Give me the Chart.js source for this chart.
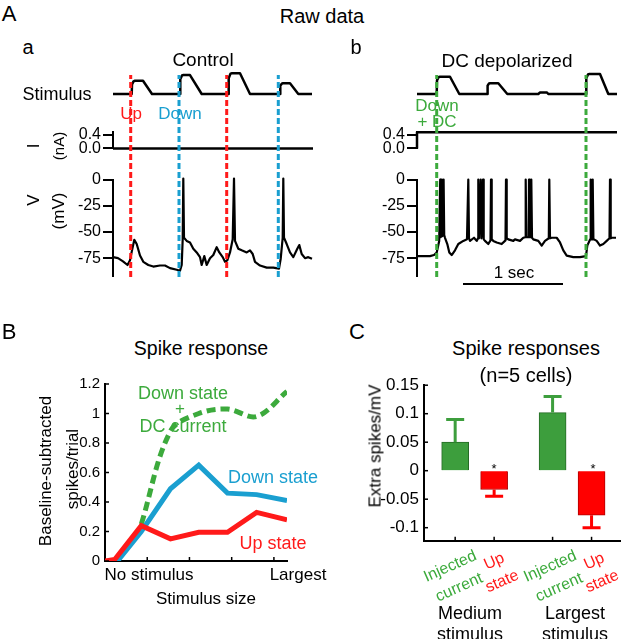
<!DOCTYPE html>
<html>
<head>
<meta charset="utf-8">
<script src="https://cdn.jsdelivr.net/npm/chart.js@4.4.1/dist/chart.umd.min.js"></script>
<style>
  body { margin: 0; background: #fff; }
  #fig { position: relative; width: 621px; height: 639px; overflow: hidden; font-family: "Liberation Sans", Arial, sans-serif; }
  #fig canvas { position: absolute; }
  .t { position: absolute; white-space: nowrap; line-height: 1; transform: translate(-50%, -50%); }
</style>
</head>
<body>
<div id="fig"></div>
<script>
// ---- Panel A: raw traces (time in s, stimulus in a.u., I in nA, V in mV) ----
const stimTraceA = [[0,0],[0.187,0],[0.19,0.45],[0.205,0.6],[0.22,0.63],[0.3,0.63],[0.39,0],
  [0.67,0],[0.673,0.7],[0.69,0.88],[0.7,0.9],[0.77,0.9],[0.887,0],
  [1.153,0],[1.157,0.75],[1.175,0.97],[1.19,0.99],[1.27,0.99],[1.37,0],
  [1.67,0],[1.673,0.4],[1.69,0.5],[1.7,0.51],[1.77,0.51],[1.853,0],[1.99,0]];
const stimTraceB = [[0,0],[0.197,0],[0.2,0.65],[0.215,0.8],[0.23,0.82],[0.33,0.82],[0.423,0],
  [0.703,0],[0.706,0.4],[0.72,0.5],[0.73,0.51],[0.813,0.51],[0.903,0],
  [1.213,0],[1.23,0.07],[1.3,0.07],[1.313,0],
  [1.69,0],[1.693,0.75],[1.71,0.93],[1.72,0.95],[1.83,0.95],[1.913,0],[2.0,0]];
const iTraceA = [[0,0],[2,0]];
const iTraceB = [[0,0],[0,0.48],[2,0.48]];
const vTraceA = [[0,-74],[0.05,-75],[0.1,-78],[0.145,-81.5],[0.17,-77],[0.187,-69],[0.213,-57.5],
  [0.237,-61.5],[0.27,-72.5],[0.303,-78.5],[0.353,-81.5],[0.403,-83],[0.47,-82],[0.52,-82],
  [0.57,-84.5],[0.637,-86],[0.67,-87],[0.687,-81.5],[0.697,-57],[0.703,1],[0.71,-55.5],
  [0.737,-58.5],[0.77,-60],[0.803,-66],[0.837,-69.5],[0.87,-74],[0.887,-81.5],[0.913,-73],
  [0.937,-81.5],[0.97,-75],[1.003,-72],[1.037,-64.5],[1.063,-69.5],[1.097,-74],[1.12,-78.5],
  [1.143,-77],[1.17,-69.5],[1.197,-57],[1.21,1],[1.22,-58.5],[1.253,-66],[1.287,-67.5],
  [1.337,-69.5],[1.37,-67.5],[1.397,-71],[1.42,-78.5],[1.47,-82],[1.537,-84],[1.603,-84],
  [1.66,-85],[1.677,-75.5],[1.697,-55.5],[1.703,1],[1.71,-55.5],[1.737,-61.5],[1.77,-69.5],
  [1.803,-74],[1.843,-66],[1.863,-62.5],[1.887,-71],[1.92,-75],[1.953,-74],[1.99,-75.5]];
const vTraceB = [[0,-73],[0.06,-73],[0.13,-73],[0.17,-72],[0.197,-69.5],[0.222,-58.5],[0.232,0],
  [0.237,-55],[0.248,0],[0.253,-54],[0.266,0],[0.272,-53],[0.28,-55.5],[0.303,-61.5],
  [0.323,-69.5],[0.347,-72],[0.38,-67.5],[0.413,-61.5],[0.463,-58.5],[0.5,-57],[0.513,0],
  [0.52,-56],[0.53,-58.5],[0.57,-55.5],[0.597,-58.5],[0.61,-56],[0.613,0],[0.62,-56],[0.637,0],
  [0.644,-56],[0.66,0],[0.667,-57],[0.68,-58.5],[0.713,-61.5],[0.735,-58],[0.74,0],[0.747,-57],
  [0.763,-58.5],[0.797,-60],[0.847,-61.5],[0.885,-58],[0.89,0],[0.897,-56],[0.913,-57],
  [0.963,-58.5],[0.98,-57],[1.03,-58.5],[1.063,-55.5],[1.083,-55],[1.087,0],[1.093,-55],
  [1.117,-55],[1.12,0],[1.127,-55],[1.14,-55],[1.143,0],[1.15,-55.5],[1.163,-57],[1.213,-58.5],
  [1.247,-63],[1.28,-58.5],[1.318,-56],[1.323,0],[1.33,-56],[1.347,-55.5],[1.397,-55.5],
  [1.43,-60],[1.463,-67.5],[1.497,-72.5],[1.563,-74],[1.63,-74],[1.69,-73],[1.703,-63],
  [1.732,-57],[1.737,0],[1.744,-57],[1.752,-57],[1.757,0],[1.764,-57],[1.77,-57],[1.797,-58.5],
  [1.83,-63],[1.863,-61.5],[1.897,-58.5],[1.925,-56],[1.93,0],[1.937,-56],[1.947,-55.5],[1.99,-55.5]];
const upMarksA = [0.177, 1.137];
const downMarksA = [0.66, 1.653];
const dcMarksB = [0.197, 1.69];
const scaleBarSec = [0.46, 1.46];
const iTicks = [0, 0.4];
const vTicks = [0, -25, -50, -75];

// ---- Panel B: spike response vs stimulus size ----
const upStatePos = [0, 0.23, 0.86, 1.55, 2.22, 2.9, 3.59, 4.31];
const upState = [0, 0.01, 0.24, 0.15, 0.195, 0.195, 0.33, 0.28];
const downStatePos = [0.27, 0.86, 1.55, 2.22, 2.9, 3.59, 4.31];
const downState = [-0.01, 0.2, 0.49, 0.65, 0.46, 0.45, 0.41];
const dcStatePos = [0.86, 1.55, 2.22, 2.9, 3.59, 4.31];
const dcState = [0.25, 0.88, 1.0, 1.03, 0.98, 1.15];
const spikeTicks = [0, 0.2, 0.4, 0.6, 0.8, 1, 1.2];
const stimSizeTicks = [1, 2, 3, 4];

// ---- Panel C: extra spikes per mV ----
const barPos = [1, 2, 3.5, 4.5];
const barVals = [0.05, -0.033, 0.102, -0.078];
const barErrEnds = [0.09, -0.045, 0.13, -0.1];
const perMvTicks = [0.15, 0.1, 0.05, 0, -0.05, -0.1];

const RED = '#ff1a1a', BLUE = '#1a9fd0', GREEN = '#3caa3c';
const BAR_COLORS = ['#3d9e3d', '#ff0000', '#3d9e3d', '#ff0000'];
const BAR_EDGES = ['#256b25', '#b00000', '#256b25', '#b00000'];
const ERR_COLORS = ['#3d9e3d', '#ff0000', '#3d9e3d', '#ff0000'];

Chart.defaults.font.family = '"Liberation Sans", Arial, sans-serif';
Chart.defaults.color = '#000';
Chart.defaults.animation = false;
Chart.defaults.events = [];
Chart.defaults.plugins.legend.display = false;
Chart.defaults.plugins.tooltip.enabled = false;

const fig = document.getElementById('fig');
const toXY = pairs => pairs.map(p => ({ x: p[0], y: p[1] }));

function makeCanvas(left, top, w, h) {
    const c = document.createElement('canvas');
    c.width = w; c.height = h;
    c.style.left = left + 'px'; c.style.top = top + 'px';
    c.style.width = w + 'px'; c.style.height = h + 'px';
    fig.appendChild(c);
    return c;
}

function addText(txt, x, y, size, color, rot) {
    const d = document.createElement('div');
    d.className = 't';
    d.textContent = txt;
    d.style.left = x + 'px'; d.style.top = y + 'px';
    d.style.fontSize = size + 'px';
    d.style.color = color || '#000';
    if (rot) d.style.transform = 'translate(-50%,-50%) rotate(' + rot + 'deg)';
    fig.appendChild(d);
}

// tick marks that point into the plot (panels B and C)
const innerTicks = {
    id: 'innerTicks',
    afterDraw(chart, args, opts) {
        const { ctx, chartArea, scales } = chart;
        ctx.save();
        ctx.strokeStyle = '#000';
        ctx.lineWidth = 1.5;
        (opts.yTicks || []).forEach(v => {
            const y = scales.y.getPixelForValue(v);
            ctx.beginPath(); ctx.moveTo(chartArea.left, y); ctx.lineTo(chartArea.left + opts.len, y); ctx.stroke();
        });
        (opts.xTicks || []).forEach(v => {
            const x = scales.x.getPixelForValue(v);
            ctx.beginPath(); ctx.moveTo(x, chartArea.bottom); ctx.lineTo(x, chartArea.bottom - opts.len); ctx.stroke();
        });
        ctx.restore();
    }
};

// one-sided error bars (panel C)
const errorBars = {
    id: 'errorBars',
    afterDatasetsDraw(chart, args, opts) {
        if (!opts.ends) return;
        const { ctx, scales } = chart;
        ctx.save();
        ctx.lineWidth = 3;
        opts.ends.forEach((e, i) => {
            const x = scales.x.getPixelForValue(opts.pos[i]);
            const y0 = scales.y.getPixelForValue(opts.vals[i]);
            const y1 = scales.y.getPixelForValue(e);
            ctx.strokeStyle = opts.colors[i];
            ctx.beginPath();
            ctx.moveTo(x, y0); ctx.lineTo(x, y1);
            ctx.moveTo(x - 9, y1); ctx.lineTo(x + 9, y1);
            ctx.stroke();
        });
        ctx.restore();
    }
};

// 1 sec scale bar under trace b
const scaleBar = {
    id: 'scaleBar',
    afterDraw(chart, args, opts) {
        if (!opts.span) return;
        const { ctx, chartArea, scales } = chart;
        const y = chartArea.bottom + 8;
        ctx.save();
        ctx.strokeStyle = '#000';
        ctx.lineWidth = 2;
        ctx.beginPath();
        ctx.moveTo(scales.x.getPixelForValue(opts.span[0]), y);
        ctx.lineTo(scales.x.getPixelForValue(opts.span[1]), y);
        ctx.stroke();
        ctx.restore();
    }
};

function traceY(min, max, ticks, fmt) {
    return {
        display: true, min: min, max: max,
        afterFit: s => { s.width = 63; },
        afterBuildTicks: s => { s.ticks = ticks.map(v => ({ value: v })); },
        ticks: { font: { size: 16 }, padding: 2, autoSkip: false, callback: fmt },
        grid: { drawOnChartArea: false, drawTicks: true, tickLength: 10, color: '#000', lineWidth: 2 },
        border: { display: true, color: '#000', width: 2 }
    };
}

function traceChart(canvas, data, yScale, pad, width, extra) {
    return new Chart(canvas, {
        type: 'line',
        data: {
            datasets: [{
                data: toXY(data), borderColor: '#000', borderWidth: width,
                pointRadius: 0, tension: 0, clip: false, borderJoinStyle: 'round'
            }]
        },
        options: {
            responsive: false,
            layout: { autoPadding: false, padding: pad },
            scales: {
                x: { type: 'linear', display: false, min: 0, max: 2 },
                y: yScale
            },
            plugins: extra || {}
        },
        plugins: [scaleBar]
    });
}

function markChart(canvas, marks) {
    const datasets = [];
    marks.forEach(m => {
        m.times.forEach(t => {
            datasets.push({
                data: [{ x: t, y: 0 }, { x: t, y: 1 }], borderColor: m.color, borderWidth: 3,
                borderDash: [6, 3], pointRadius: 0, clip: false
            });
        });
    });
    return new Chart(canvas, {
        type: 'line',
        data: { datasets: datasets },
        options: {
            responsive: false,
            layout: { autoPadding: false, padding: { left: 63, right: 2, top: 5, bottom: 3 } },
            scales: {
                x: { type: 'linear', display: false, min: 0, max: 2 },
                y: { display: false, min: 0, max: 1 }
            }
        }
    });
}

const hiddenStimY = { display: false, min: 0, max: 1 };
const stimPad = { left: 63, right: 2, top: 8, bottom: 11 };
const fmtI = v => v.toFixed(1);
const fmtV = v => String(v);

// column a (control) and column b (DC depolarized)
[[50, stimTraceA, iTraceA, vTraceA, null], [354, stimTraceB, iTraceB, vTraceB, scaleBarSec]].forEach(col => {
    const [left, stim, cur, volt, bar] = col;
    traceChart(makeCanvas(left, 65, 265, 40), stim, hiddenStimY, stimPad, 2.5);
    traceChart(makeCanvas(left, 120, 265, 40), cur, traceY(0, 0.5, iTicks, fmtI),
        { left: 0, right: 2, top: 8, bottom: 7 }, 2.5);
    traceChart(makeCanvas(left, 168, 265, 125), volt, traceY(-92, 0, vTicks, fmtV),
        { left: 0, right: 2, top: 9, bottom: 17 }, 2.2, { scaleBar: { span: bar } });
});
markChart(makeCanvas(50, 70, 265, 210), [{ times: upMarksA, color: RED }, { times: downMarksA, color: BLUE }]);
markChart(makeCanvas(354, 70, 265, 210), [{ times: dcMarksB, color: GREEN }]);

// panel B
const lineB = (xs, ys) => xs.map((x, i) => ({ x: x, y: ys[i] }));
new Chart(makeCanvas(40, 370, 250, 205), {
    type: 'line',
    data: {
        datasets: [
            { data: lineB(upStatePos, upState), borderColor: RED, borderWidth: 5, pointRadius: 0, tension: 0 },
            { data: lineB(downStatePos, downState), borderColor: BLUE, borderWidth: 5, pointRadius: 0, tension: 0 },
            { data: lineB(dcStatePos, dcState), borderColor: GREEN, borderWidth: 5, borderDash: [9, 5],
              pointRadius: 0, tension: 0.35 }
        ]
    },
    options: {
        responsive: false,
        layout: { autoPadding: false, padding: { left: 0, right: 3, top: 10, bottom: 0 } },
        scales: {
            x: {
                type: 'linear', min: 0, max: 4.31,
                afterFit: s => { s.height = 10; },
                ticks: { display: false },
                grid: { display: false, drawTicks: false },
                border: { display: true, color: '#000', width: 2 }
            },
            y: {
                min: 0, max: 1.2,
                afterFit: s => { s.width = 65; },
                afterBuildTicks: s => { s.ticks = spikeTicks.map(v => ({ value: v })); },
                ticks: { font: { size: 15 }, padding: 5, autoSkip: false, callback: v => String(v) },
                grid: { drawOnChartArea: false, drawTicks: false },
                border: { display: true, color: '#000', width: 2 }
            }
        },
        plugins: { innerTicks: { yTicks: spikeTicks, xTicks: stimSizeTicks, len: 4 } }
    },
    plugins: [innerTicks]
});

// panel C
new Chart(makeCanvas(360, 370, 261, 186), {
    type: 'bar',
    data: {
        datasets: [{
            data: lineB(barPos, barVals), backgroundColor: BAR_COLORS, borderColor: BAR_EDGES,
            borderWidth: 1, barThickness: 27
        }]
    },
    options: {
        responsive: false,
        layout: { autoPadding: false, padding: { left: 0, right: 1, top: 10, bottom: 0 } },
        scales: {
            x: {
                type: 'linear', min: 0.2, max: 5.23, offset: false,
                afterFit: s => { s.height = 10; },
                ticks: { display: false },
                grid: { display: false, drawTicks: false },
                border: { display: true, color: '#000', width: 2 }
            },
            y: {
                min: -0.123, max: 0.15,
                afterFit: s => { s.width = 64; },
                afterBuildTicks: s => { s.ticks = perMvTicks.map(v => ({ value: v })); },
                ticks: { font: { size: 17 }, padding: 5, autoSkip: false, callback: v => String(v) },
                grid: { drawOnChartArea: false, drawTicks: false },
                border: { display: true, color: '#000', width: 2 }
            }
        },
        plugins: {
            innerTicks: { yTicks: perMvTicks, xTicks: barPos, len: 4 },
            errorBars: { pos: barPos, vals: barVals, ends: barErrEnds, colors: ERR_COLORS }
        }
    },
    plugins: [innerTicks, errorBars]
});

// ---- text ----
addText('A', 9, 14, 22);
addText('Raw data', 322, 16, 20);
addText('a', 28, 47, 20);
addText('Control', 203, 59, 19);
addText('b', 356, 47, 20);
addText('DC depolarized', 507, 60, 19);
addText('Stimulus', 57, 94, 18);
addText('Up', 131, 113, 17, RED);
addText('Down', 180, 113, 17, BLUE);
addText('Down', 437, 105, 17, GREEN);
addText('+ DC', 437, 121, 17, GREEN);
addText('I', 33, 146, 17, '#000', -90);
addText('(nA)', 58, 146, 15, '#000', -90);
addText('V', 33, 200, 17, '#000', -90);
addText('(mV)', 58, 211, 17, '#000', -90);
addText('1 sec', 514, 272, 17);

addText('B', 9, 332, 22);
addText('Spike response', 201, 349, 19.5);
addText('Baseline-subtracted', 45, 471, 17, '#000', -90);
addText('spikes/trial', 72, 469, 17, '#000', -90);
addText('No stimulus', 149, 574, 17);
addText('Largest', 298, 574, 17);
addText('Stimulus size', 206, 598, 17);
addText('Down state', 183, 393, 18, GREEN);
addText('+', 180, 408, 17, GREEN);
addText('DC current', 183, 426, 18, GREEN);
addText('Down state', 273, 477, 18, BLUE);
addText('Up state', 273, 543, 18, RED);

addText('C', 357, 332, 22);
addText('Spike responses', 526, 348, 20);
addText('(n=5 cells)', 526, 375, 20);
addText('Extra spikes/mV', 375, 446, 17, '#000', -90);
addText('*', 494, 468, 13);
addText('*', 593, 468, 13);
[0, 100].forEach(dx => {
    addText('Injected', 450 + dx, 566, 16, GREEN, -24);
    addText('current', 459 + dx, 587, 16, GREEN, -24);
    addText('Up', 494 + dx, 561, 16, RED, -24);
    addText('state', 502 + dx, 581, 16, RED, -24);
});
addText('Medium', 470, 613, 18);
addText('stimulus', 470, 634, 18);
addText('Largest', 575, 613, 18);
addText('stimulus', 575, 634, 18);
</script>
</body>
</html>
